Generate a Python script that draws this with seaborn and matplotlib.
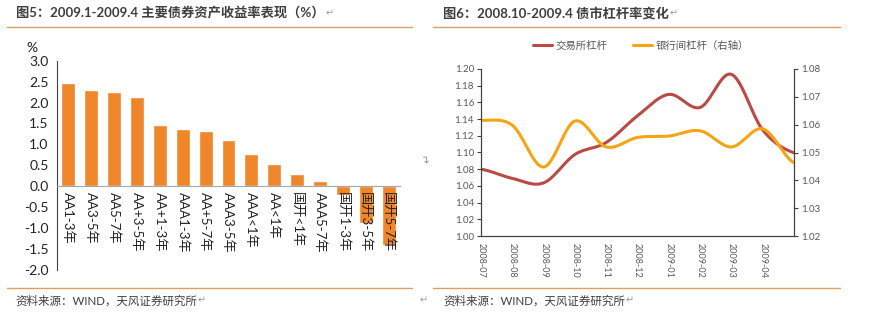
import numpy as np
import pandas as pd
import matplotlib
matplotlib.use("Agg")
import matplotlib.pyplot as plt
import seaborn as sns
from matplotlib.lines import Line2D

# ---------------- data ----------------
bond_cats = ["AA1-3年", "AA3-5年", "AA5-7年", "AA+3-5年", "AA+1-3年", "AAA1-3年",
             "AA+5-7年", "AAA3-5年", "AAA<1年", "AA<1年", "国开<1年", "AAA5-7年",
             "国开1-3年", "国开3-5年", "国开5-7年"]
bond_returns = [2.46, 2.30, 2.25, 2.14, 1.47, 1.37, 1.31, 1.10, 0.77, 0.54,
                0.29, 0.13, -0.20, -0.88, -1.40]

months = ["2008-07", "2008-08", "2008-09", "2008-10", "2008-11", "2008-12",
          "2009-01", "2009-02", "2009-03", "2009-04", ""]
exchange_lev = [1.080, 1.069, 1.0636, 1.0976, 1.112, 1.144, 1.1696, 1.154,
                1.1936, 1.127, 1.0996]
interbank_lev = [1.0616, 1.0598, 1.0448, 1.0613, 1.0520, 1.0554, 1.0559,
                 1.0578, 1.0520, 1.0585, 1.0463]

# ---------------- style ----------------
sns.set_style("white")
plt.rcParams["font.family"] = ["Lato", "Noto Sans CJK SC", "DejaVu Sans"]
plt.rcParams["axes.unicode_minus"] = False

BAR = "#F0862A"
RED = "#B94A44"
ORANGE = "#F7A414"
RULE = "#D9A066"
TXT = "#3F3F3F"
GRAY = "#595959"
MARK = "#9A9A9A"


def smooth(y, n=30):
    """Catmull-Rom style smoothing (like Excel's smoothed line) for drawing."""
    y = np.asarray(y, float)
    p = np.concatenate([[y[0]], y, [y[-1]]])
    xs, ys = [], []
    for i in range(len(y) - 1):
        p0, p1, p2, p3 = p[i], p[i + 1], p[i + 2], p[i + 3]
        t = np.linspace(0, 1, n, endpoint=False)
        v = 0.5 * ((2 * p1) + (-p0 + p2) * t + (2 * p0 - 5 * p1 + 4 * p2 - p3) * t ** 2
                   + (-p0 + 3 * p1 - 3 * p2 + p3) * t ** 3)
        xs.append(i + t)
        ys.append(v)
    xs.append([len(y) - 1])
    ys.append([y[-1]])
    return np.concatenate(xs), np.concatenate(ys)


fig = plt.figure(figsize=(8.8, 3.23), dpi=100)
W, H = 880, 323

# ---------------- decoration (titles, rules, sources) ----------------
texts = [
    fig.text(16 / W, 1 - 13 / H, "图5：2009.1-2009.4 主要债券资产收益率表现（%）",
             fontsize=9.5, fontweight="bold", color=TXT, va="center", ha="left"),
    fig.text(443 / W, 1 - 13 / H, "图6：2008.10-2009.4 债市杠杆率变化",
             fontsize=9.5, fontweight="bold", color=TXT, va="center", ha="left"),
    fig.text(15 / W, 1 - 300.5 / H, "资料来源：WIND，天风证券研究所", fontsize=8.3,
             color=TXT, va="center", ha="left"),
    fig.text(443 / W, 1 - 300.5 / H, "资料来源：WIND，天风证券研究所", fontsize=8.3,
             color=TXT, va="center", ha="left"),
]
for x0, x1 in [(7, 412), (433, 840)]:
    fig.add_artist(Line2D([x0 / W, x1 / W], [1 - 27 / H, 1 - 27 / H], color=RULE, lw=1))
    fig.add_artist(Line2D([x0 / W, x1 / W], [1 - 288 / H, 1 - 288 / H], color=RULE, lw=1))
fig.text(420 / W, 1 - 300.5 / H, "↵", fontsize=7, color=MARK, va="center", ha="left",
         family="DejaVu Sans")
fig.text(428 / W, 1 - 158 / H, "↵", fontsize=8, color=MARK, va="center", ha="center",
         rotation=90, family="DejaVu Sans")

# ---------------- left: bar chart ----------------
ax1 = fig.add_axes([57 / W, 1 - 270 / H, 343 / W, 209.3 / H])
df1 = pd.DataFrame({"cat": bond_cats, "ret": bond_returns})
sns.barplot(data=df1, x="cat", y="ret", color=BAR, saturation=1, width=0.61, ax=ax1)
ax1.set_axisbelow(False)
ax1.set_xlim(-0.5, len(bond_cats) - 0.5)
ax1.set_ylim(-2.0, 3.0)
ax1.set_yticks(np.arange(-2.0, 3.01, 0.5))
ax1.set_yticklabels([f"{v:.1f}" for v in np.arange(-2.0, 3.01, 0.5)], fontsize=10, color="#222222")
ax1.set_xlabel("")
ax1.set_ylabel("")
for s in ["top", "right"]:
    ax1.spines[s].set_visible(False)
ax1.spines["bottom"].set_position(("data", 0))
ax1.spines["bottom"].set_color("#A6A6A6")
ax1.spines["left"].set_color("#404040")
ax1.tick_params(axis="y", length=4, color="#404040", direction="out", pad=2)
ax1.set_xticks(range(len(bond_cats)))
ax1.set_xticklabels(bond_cats, rotation=270, fontsize=9.5, color="#222222",
                    va="top", ha="center")
ax1.tick_params(axis="x", which="major", length=0, pad=4)
ax1.set_xticks(np.arange(-0.5, len(bond_cats), 1), minor=True)
ax1.tick_params(axis="x", which="minor", length=4, color="#A6A6A6", direction="out")
fig.text(32 / W, 1 - 48 / H, "%", fontsize=10, color="#222222", ha="center", va="center")

# ---------------- right: line chart ----------------
ax2 = fig.add_axes([481 / W, 1 - 236 / H, 313 / W, 167 / H])
ax3 = ax2.twinx()
xr, yr = smooth(exchange_lev)
xo, yo = smooth(interbank_lev)
sns.lineplot(x=xr, y=yr, ax=ax2, color=RED, lw=2.2, estimator=None, sort=False)
sns.lineplot(x=xo, y=yo, ax=ax3, color=ORANGE, lw=2.2, estimator=None, sort=False)
ax2.set_xlim(0, len(months) - 1)
ax2.set_ylim(1.00, 1.20)
ax3.set_ylim(1.02, 1.08)
ax2.set_yticks(np.arange(1.00, 1.2001, 0.02))
ax2.set_yticklabels([f"{v:.2f}" for v in np.arange(1.00, 1.2001, 0.02)], fontsize=7, color=GRAY)
ax3.set_yticks(np.arange(1.02, 1.0801, 0.01))
ax3.set_yticklabels([f"{v:.2f}" for v in np.arange(1.02, 1.0801, 0.01)], fontsize=7, color=GRAY)
ax2.set_xticks(range(len(months) - 1))
ax2.set_xticklabels(months[:-1], rotation=270, fontsize=6.5, color=GRAY, va="top", ha="center")
for a in (ax2, ax3):
    a.set_xlabel("")
    a.set_ylabel("")
    a.spines["top"].set_visible(False)
    for s in ["left", "right", "bottom"]:
        a.spines[s].set_color("#404040")
ax2.tick_params(axis="both", length=3, color="#404040", direction="out", pad=2)
ax3.tick_params(axis="y", length=3, color="#404040", direction="out", pad=2)

handles = [Line2D([], [], color=RED, lw=2.2), Line2D([], [], color=ORANGE, lw=2.2)]
fig.legend(handles, ["交易所杠杆", "银行间杠杆（右轴）"], loc="center",
           bbox_to_anchor=(641 / W, 1 - 46 / H), ncol=2, frameon=False, fontsize=7.5,
           labelcolor=GRAY, handlelength=1.8, columnspacing=2.5, handletextpad=0.3)

# paragraph marks right after titles and sources
fig.canvas.draw()
r = fig.canvas.get_renderer()
for t in texts:
    bb = t.get_window_extent(renderer=r)
    fig.text((bb.x1 + 1) / W, t.get_position()[1], "↵", fontsize=7, color=MARK,
             va="center", ha="left", family="DejaVu Sans")

fig.savefig("out.png", dpi=100)
